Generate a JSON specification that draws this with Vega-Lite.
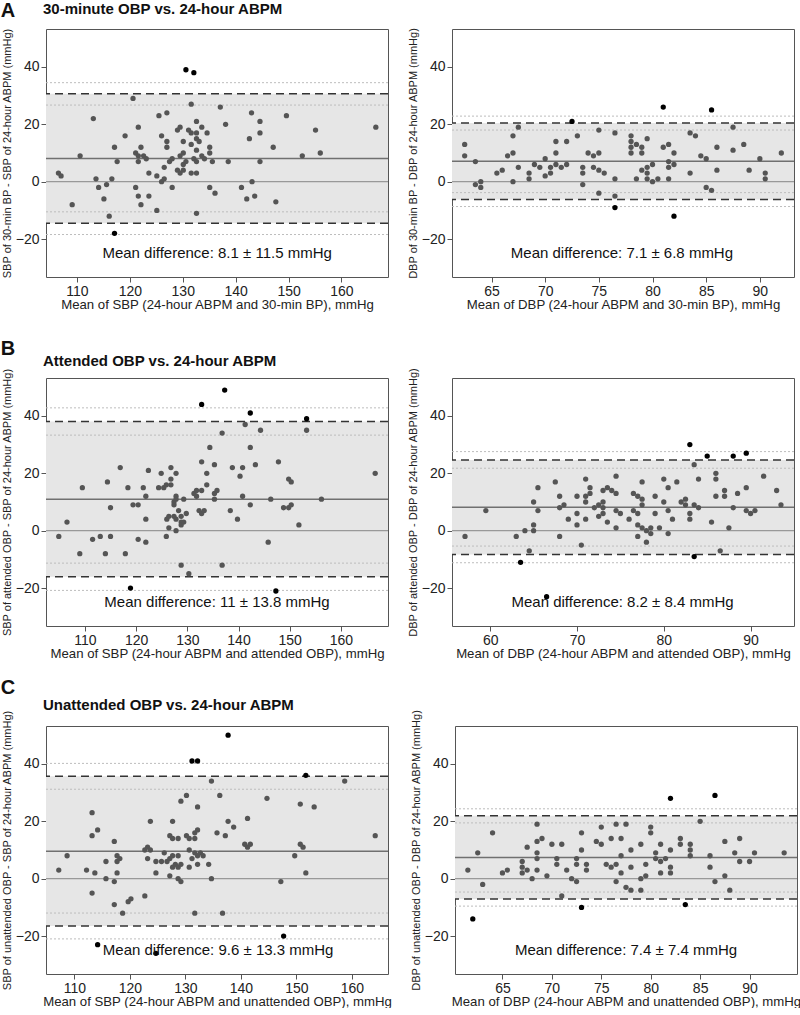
{
"$schema": "https://vega.github.io/schema/vega-lite/v6.json",
"padding": {"top": 0, "left": 0, "right": 0, "bottom": 0},
"background": "white",
"config": {
 "font": "Liberation Sans",
 "view": {"stroke": "#555555", "strokeWidth": 1},
 "axis": {"domain": false, "grid": false, "ticks": true, "tickColor": "#555555", "tickSize": 5, "labelFontSize": 14, "labelColor": "#222222", "labelFont": "Liberation Sans", "titleFont": "Liberation Sans", "titleFontWeight": "normal", "titleColor": "#222222"},
 "axisX": {"labelPadding": 2, "titleFontSize": 13.2, "titlePadding": 0},
 "axisY": {"labelPadding": 2, "titleFontSize": 11, "titlePadding": 3},
 "title": {"font": "Liberation Sans", "color": "#111111"}
},
"datasets": {
 "bands": [
  {"p": "A1", "lo": -14.44, "hi": 30.64},
  {"p": "A2", "lo": -6.23, "hi": 20.43},
  {"p": "B1", "lo": -16.05, "hi": 38.05},
  {"p": "B2", "lo": -8.26, "hi": 24.66},
  {"p": "C1", "lo": -16.47, "hi": 35.67},
  {"p": "C2", "lo": -7.1, "hi": 21.9}
 ],
 "lines": [
  {"p": "A1", "k": "mean", "y": 8.1}, {"p": "A1", "k": "zero", "y": 0}, {"p": "A1", "k": "loa", "y": 30.64}, {"p": "A1", "k": "loa", "y": -14.44},
  {"p": "A1", "k": "ci", "y": 34.5}, {"p": "A1", "k": "ci", "y": 26.7}, {"p": "A1", "k": "ci", "y": -10.5}, {"p": "A1", "k": "ci", "y": -18.4},
  {"p": "A2", "k": "mean", "y": 7.1}, {"p": "A2", "k": "zero", "y": 0}, {"p": "A2", "k": "loa", "y": 20.43}, {"p": "A2", "k": "loa", "y": -6.23},
  {"p": "A2", "k": "ci", "y": 22.85}, {"p": "A2", "k": "ci", "y": 18.0}, {"p": "A2", "k": "ci", "y": -3.8}, {"p": "A2", "k": "ci", "y": -8.65},
  {"p": "B1", "k": "mean", "y": 11}, {"p": "B1", "k": "zero", "y": 0}, {"p": "B1", "k": "loa", "y": 38.05}, {"p": "B1", "k": "loa", "y": -16.05},
  {"p": "B1", "k": "ci", "y": 42.8}, {"p": "B1", "k": "ci", "y": 33.3}, {"p": "B1", "k": "ci", "y": -11.3}, {"p": "B1", "k": "ci", "y": -20.8},
  {"p": "B2", "k": "mean", "y": 8.2}, {"p": "B2", "k": "zero", "y": 0}, {"p": "B2", "k": "loa", "y": 24.66}, {"p": "B2", "k": "loa", "y": -8.26},
  {"p": "B2", "k": "ci", "y": 27.56}, {"p": "B2", "k": "ci", "y": 21.76}, {"p": "B2", "k": "ci", "y": -5.36}, {"p": "B2", "k": "ci", "y": -11.16},
  {"p": "C1", "k": "mean", "y": 9.6}, {"p": "C1", "k": "zero", "y": 0}, {"p": "C1", "k": "loa", "y": 35.67}, {"p": "C1", "k": "loa", "y": -16.47},
  {"p": "C1", "k": "ci", "y": 40.17}, {"p": "C1", "k": "ci", "y": 31.17}, {"p": "C1", "k": "ci", "y": -11.97}, {"p": "C1", "k": "ci", "y": -20.97},
  {"p": "C2", "k": "mean", "y": 7.4}, {"p": "C2", "k": "zero", "y": 0}, {"p": "C2", "k": "loa", "y": 21.9}, {"p": "C2", "k": "loa", "y": -7.1},
  {"p": "C2", "k": "ci", "y": 24.35}, {"p": "C2", "k": "ci", "y": 19.45}, {"p": "C2", "k": "ci", "y": -4.65}, {"p": "C2", "k": "ci", "y": -9.55}
 ],
 "notes": [
  {"p": "A1", "m": 136.5, "d": -25, "t": "Mean difference: 8.1 ± 11.5 mmHg"},
  {"p": "A2", "m": 77.15, "d": -25, "t": "Mean difference: 7.1 ± 6.8 mmHg"},
  {"p": "B1", "m": 135.8, "d": -25, "t": "Mean difference: 11 ± 13.8 mmHg"},
  {"p": "B2", "m": 75.25, "d": -25, "t": "Mean difference: 8.2 ± 8.4 mmHg"},
  {"p": "C1", "m": 135.9, "d": -25, "t": "Mean difference: 9.6 ± 13.3 mmHg"},
  {"p": "C2", "m": 77.5, "d": -25, "t": "Mean difference: 7.4 ± 7.4 mmHg"}
 ],
 "pts": [
  {"p":"A1","m":106.5,"d":3},{"p":"A1","m":107.0,"d":2},{"p":"A1","m":109.1,"d":-8},{"p":"A1","m":110.6,"d":9},{"p":"A1","m":113.1,"d":22},{"p":"A1","m":113.6,"d":1},{"p":"A1","m":114.1,"d":-2},{"p":"A1","m":115.1,"d":-6},{"p":"A1","m":115.6,"d":-1},{"p":"A1","m":116.1,"d":-12},{"p":"A1","m":116.6,"d":1},{"p":"A1","m":117.1,"d":12},{"p":"A1","m":117.1,"d":-18},{"p":"A1","m":117.6,"d":7},{"p":"A1","m":119.1,"d":16},{"p":"A1","m":120.6,"d":29},{"p":"A1","m":121.1,"d":-2},{"p":"A1","m":121.1,"d":10},{"p":"A1","m":121.6,"d":19},{"p":"A1","m":121.6,"d":9},{"p":"A1","m":121.6,"d":7},{"p":"A1","m":121.6,"d":-5},{"p":"A1","m":122.1,"d":12},{"p":"A1","m":122.1,"d":-8},{"p":"A1","m":122.6,"d":9},{"p":"A1","m":123.1,"d":8},{"p":"A1","m":123.6,"d":3},{"p":"A1","m":123.6,"d":-5},{"p":"A1","m":125.1,"d":-10},{"p":"A1","m":125.1,"d":2},{"p":"A1","m":125.5,"d":23},{"p":"A1","m":126.0,"d":16},{"p":"A1","m":126.0,"d":0},{"p":"A1","m":126.5,"d":1},{"p":"A1","m":126.5,"d":5},{"p":"A1","m":127.0,"d":24},{"p":"A1","m":127.0,"d":14},{"p":"A1","m":127.0,"d":12},{"p":"A1","m":127.5,"d":7},{"p":"A1","m":128.0,"d":8},{"p":"A1","m":128.0,"d":-2},{"p":"A1","m":129.0,"d":18},{"p":"A1","m":129.0,"d":4},{"p":"A1","m":129.5,"d":19},{"p":"A1","m":129.5,"d":9},{"p":"A1","m":129.5,"d":3},{"p":"A1","m":130.1,"d":14},{"p":"A1","m":130.1,"d":10},{"p":"A1","m":130.1,"d":4},{"p":"A1","m":130.1,"d":6},{"p":"A1","m":130.6,"d":7},{"p":"A1","m":130.6,"d":39},{"p":"A1","m":131.1,"d":18},{"p":"A1","m":131.6,"d":17},{"p":"A1","m":131.6,"d":13},{"p":"A1","m":131.6,"d":3},{"p":"A1","m":131.6,"d":27},{"p":"A1","m":132.1,"d":38},{"p":"A1","m":132.1,"d":8},{"p":"A1","m":132.6,"d":21},{"p":"A1","m":132.6,"d":17},{"p":"A1","m":132.6,"d":15},{"p":"A1","m":132.6,"d":11},{"p":"A1","m":132.6,"d":7},{"p":"A1","m":132.6,"d":3},{"p":"A1","m":132.6,"d":-11},{"p":"A1","m":133.1,"d":14},{"p":"A1","m":133.6,"d":19},{"p":"A1","m":133.6,"d":9},{"p":"A1","m":134.1,"d":8},{"p":"A1","m":134.6,"d":17},{"p":"A1","m":135.1,"d":12},{"p":"A1","m":135.1,"d":10},{"p":"A1","m":135.1,"d":-2},{"p":"A1","m":135.6,"d":7},{"p":"A1","m":136.1,"d":-4},{"p":"A1","m":137.1,"d":26},{"p":"A1","m":138.1,"d":20},{"p":"A1","m":138.6,"d":7},{"p":"A1","m":141.1,"d":-2},{"p":"A1","m":142.1,"d":-6},{"p":"A1","m":142.6,"d":15},{"p":"A1","m":143.0,"d":24},{"p":"A1","m":143.1,"d":0},{"p":"A1","m":143.6,"d":-5},{"p":"A1","m":144.6,"d":21},{"p":"A1","m":144.6,"d":17},{"p":"A1","m":144.6,"d":7},{"p":"A1","m":147.1,"d":12},{"p":"A1","m":147.6,"d":-7},{"p":"A1","m":149.6,"d":23},{"p":"A1","m":152.6,"d":9},{"p":"A1","m":155.1,"d":18},{"p":"A1","m":156.0,"d":10},{"p":"A1","m":166.5,"d":19},
  {"p":"A2","m":62.5,"d":13},{"p":"A2","m":62.5,"d":9},{"p":"A2","m":63.5,"d":7},{"p":"A2","m":63.5,"d":-1},{"p":"A2","m":64,"d":0},{"p":"A2","m":64,"d":-2},{"p":"A2","m":65.5,"d":3},{"p":"A2","m":66,"d":4},{"p":"A2","m":66.5,"d":9},{"p":"A2","m":67,"d":16},{"p":"A2","m":67,"d":10},{"p":"A2","m":67,"d":0},{"p":"A2","m":67.5,"d":19},{"p":"A2","m":67.5,"d":5},{"p":"A2","m":68.5,"d":3},{"p":"A2","m":68.5,"d":1},{"p":"A2","m":69,"d":6},{"p":"A2","m":69.5,"d":5},{"p":"A2","m":70,"d":8},{"p":"A2","m":70,"d":2},{"p":"A2","m":70.5,"d":5},{"p":"A2","m":70.5,"d":3},{"p":"A2","m":71,"d":14},{"p":"A2","m":71,"d":10},{"p":"A2","m":71,"d":6},{"p":"A2","m":71.5,"d":5},{"p":"A2","m":72,"d":14},{"p":"A2","m":72,"d":6},{"p":"A2","m":72.5,"d":21},{"p":"A2","m":73,"d":16},{"p":"A2","m":73.5,"d":5},{"p":"A2","m":73.5,"d":3},{"p":"A2","m":73.5,"d":-1},{"p":"A2","m":74,"d":10},{"p":"A2","m":74.5,"d":9},{"p":"A2","m":74.5,"d":5},{"p":"A2","m":75,"d":18},{"p":"A2","m":75,"d":10},{"p":"A2","m":75,"d":4},{"p":"A2","m":75,"d":-4},{"p":"A2","m":75.5,"d":3},{"p":"A2","m":76.5,"d":17},{"p":"A2","m":76.5,"d":1},{"p":"A2","m":76.5,"d":-5},{"p":"A2","m":76.5,"d":-9},{"p":"A2","m":78,"d":16},{"p":"A2","m":78,"d":14},{"p":"A2","m":78,"d":12},{"p":"A2","m":78,"d":10},{"p":"A2","m":78.5,"d":13},{"p":"A2","m":78.5,"d":1},{"p":"A2","m":79,"d":12},{"p":"A2","m":79,"d":10},{"p":"A2","m":79,"d":4},{"p":"A2","m":79.5,"d":15},{"p":"A2","m":79.5,"d":5},{"p":"A2","m":79.5,"d":3},{"p":"A2","m":79.5,"d":1},{"p":"A2","m":80,"d":6},{"p":"A2","m":80,"d":0},{"p":"A2","m":80.5,"d":1},{"p":"A2","m":81,"d":26},{"p":"A2","m":81,"d":12},{"p":"A2","m":81.5,"d":13},{"p":"A2","m":81.5,"d":7},{"p":"A2","m":81.5,"d":5},{"p":"A2","m":81.5,"d":1},{"p":"A2","m":82,"d":10},{"p":"A2","m":82,"d":6},{"p":"A2","m":82,"d":-12},{"p":"A2","m":83.5,"d":17},{"p":"A2","m":83.5,"d":3},{"p":"A2","m":84,"d":16},{"p":"A2","m":84.5,"d":9},{"p":"A2","m":85,"d":8},{"p":"A2","m":85,"d":-2},{"p":"A2","m":85.5,"d":25},{"p":"A2","m":85.5,"d":-3},{"p":"A2","m":86,"d":12},{"p":"A2","m":86,"d":4},{"p":"A2","m":87.5,"d":19},{"p":"A2","m":87.5,"d":11},{"p":"A2","m":88.5,"d":13},{"p":"A2","m":89,"d":4},{"p":"A2","m":90,"d":8},{"p":"A2","m":90.5,"d":3},{"p":"A2","m":90.5,"d":1},{"p":"A2","m":92,"d":10},
  {"p":"B1","m":104.9,"d":-2},{"p":"B1","m":106.5,"d":3},{"p":"B1","m":109.0,"d":-8},{"p":"B1","m":109.5,"d":15},{"p":"B1","m":111.5,"d":-3},{"p":"B1","m":113.0,"d":-2},{"p":"B1","m":114.0,"d":-8},{"p":"B1","m":114.4,"d":17},{"p":"B1","m":115.0,"d":8},{"p":"B1","m":115.0,"d":-2},{"p":"B1","m":116.9,"d":22},{"p":"B1","m":117.9,"d":-8},{"p":"B1","m":118.4,"d":15},{"p":"B1","m":118.9,"d":-20},{"p":"B1","m":119.4,"d":9},{"p":"B1","m":120.4,"d":9},{"p":"B1","m":120.4,"d":-3},{"p":"B1","m":121.4,"d":15},{"p":"B1","m":121.9,"d":12},{"p":"B1","m":121.9,"d":4},{"p":"B1","m":121.9,"d":-4},{"p":"B1","m":122.4,"d":21},{"p":"B1","m":124.4,"d":15},{"p":"B1","m":124.9,"d":20},{"p":"B1","m":125.4,"d":15},{"p":"B1","m":125.9,"d":16},{"p":"B1","m":125.9,"d":-2},{"p":"B1","m":126.0,"d":4},{"p":"B1","m":126.4,"d":1},{"p":"B1","m":126.4,"d":5},{"p":"B1","m":126.8,"d":22},{"p":"B1","m":126.8,"d":18},{"p":"B1","m":126.8,"d":16},{"p":"B1","m":127.4,"d":10},{"p":"B1","m":127.4,"d":9},{"p":"B1","m":127.4,"d":5},{"p":"B1","m":127.8,"d":20},{"p":"B1","m":127.8,"d":12},{"p":"B1","m":127.8,"d":11},{"p":"B1","m":127.8,"d":4},{"p":"B1","m":127.8,"d":0},{"p":"B1","m":128.3,"d":7},{"p":"B1","m":128.8,"d":-12},{"p":"B1","m":128.8,"d":5},{"p":"B1","m":128.8,"d":3},{"p":"B1","m":128.8,"d":2},{"p":"B1","m":129.3,"d":11},{"p":"B1","m":129.3,"d":3},{"p":"B1","m":129.8,"d":6},{"p":"B1","m":130.3,"d":-15},{"p":"B1","m":131.3,"d":13},{"p":"B1","m":131.8,"d":14},{"p":"B1","m":131.8,"d":12},{"p":"B1","m":132.3,"d":7},{"p":"B1","m":132.8,"d":24},{"p":"B1","m":132.8,"d":14},{"p":"B1","m":132.8,"d":6},{"p":"B1","m":133.3,"d":7},{"p":"B1","m":132.8,"d":44},{"p":"B1","m":133.8,"d":20},{"p":"B1","m":133.8,"d":16},{"p":"B1","m":134.4,"d":29},{"p":"B1","m":135.3,"d":23},{"p":"B1","m":135.3,"d":13},{"p":"B1","m":135.3,"d":11},{"p":"B1","m":135.8,"d":14},{"p":"B1","m":136.8,"d":34},{"p":"B1","m":136.8,"d":-12},{"p":"B1","m":137.3,"d":49},{"p":"B1","m":138.4,"d":7},{"p":"B1","m":138.8,"d":22},{"p":"B1","m":139.8,"d":4},{"p":"B1","m":140.3,"d":19},{"p":"B1","m":140.8,"d":22},{"p":"B1","m":140.8,"d":12},{"p":"B1","m":141.3,"d":37},{"p":"B1","m":142.3,"d":41},{"p":"B1","m":142.3,"d":29},{"p":"B1","m":142.3,"d":9},{"p":"B1","m":143.3,"d":23},{"p":"B1","m":144.3,"d":35},{"p":"B1","m":145.8,"d":-4},{"p":"B1","m":146.3,"d":11},{"p":"B1","m":147.3,"d":-21},{"p":"B1","m":147.8,"d":24},{"p":"B1","m":148.8,"d":8},{"p":"B1","m":149.8,"d":8},{"p":"B1","m":149.8,"d":18},{"p":"B1","m":150.3,"d":17},{"p":"B1","m":150.3,"d":9},{"p":"B1","m":151.8,"d":2},{"p":"B1","m":153.3,"d":39},{"p":"B1","m":153.3,"d":35},{"p":"B1","m":156.2,"d":11},{"p":"B1","m":166.7,"d":20},
  {"p":"B2","m":57.1,"d":-2},{"p":"B2","m":59.5,"d":7},{"p":"B2","m":63,"d":-2},{"p":"B2","m":63.5,"d":-11},{"p":"B2","m":64,"d":0},{"p":"B2","m":64.5,"d":-7},{"p":"B2","m":65,"d":10},{"p":"B2","m":65,"d":2},{"p":"B2","m":65,"d":0},{"p":"B2","m":65.5,"d":15},{"p":"B2","m":65.5,"d":7},{"p":"B2","m":66.5,"d":-23},{"p":"B2","m":67.5,"d":17},{"p":"B2","m":68,"d":12},{"p":"B2","m":68,"d":8},{"p":"B2","m":68,"d":-2},{"p":"B2","m":68.5,"d":9},{"p":"B2","m":69,"d":4},{"p":"B2","m":70,"d":12},{"p":"B2","m":70,"d":6},{"p":"B2","m":70,"d":2},{"p":"B2","m":70.5,"d":-5},{"p":"B2","m":71,"d":18},{"p":"B2","m":71,"d":12},{"p":"B2","m":71,"d":10},{"p":"B2","m":71,"d":4},{"p":"B2","m":71.5,"d":15},{"p":"B2","m":71.5,"d":13},{"p":"B2","m":72,"d":8},{"p":"B2","m":72.5,"d":9},{"p":"B2","m":72.5,"d":5},{"p":"B2","m":73,"d":14},{"p":"B2","m":73,"d":10},{"p":"B2","m":73,"d":8},{"p":"B2","m":73,"d":6},{"p":"B2","m":73.5,"d":15},{"p":"B2","m":73.5,"d":3},{"p":"B2","m":74,"d":14},{"p":"B2","m":74.5,"d":19},{"p":"B2","m":74.5,"d":13},{"p":"B2","m":74.5,"d":7},{"p":"B2","m":74.5,"d":1},{"p":"B2","m":75,"d":6},{"p":"B2","m":76,"d":4},{"p":"B2","m":76.5,"d":13},{"p":"B2","m":76.5,"d":7},{"p":"B2","m":77,"d":12},{"p":"B2","m":77,"d":6},{"p":"B2","m":77,"d":2},{"p":"B2","m":77,"d":-2},{"p":"B2","m":77.5,"d":17},{"p":"B2","m":77.5,"d":11},{"p":"B2","m":77.5,"d":9},{"p":"B2","m":77.5,"d":1},{"p":"B2","m":78,"d":0},{"p":"B2","m":78,"d":-4},{"p":"B2","m":78.5,"d":1},{"p":"B2","m":78.5,"d":-1},{"p":"B2","m":79,"d":12},{"p":"B2","m":79,"d":6},{"p":"B2","m":79.5,"d":1},{"p":"B2","m":80,"d":18},{"p":"B2","m":80,"d":10},{"p":"B2","m":80.5,"d":15},{"p":"B2","m":80.5,"d":7},{"p":"B2","m":80.5,"d":-1},{"p":"B2","m":81,"d":4},{"p":"B2","m":81.5,"d":17},{"p":"B2","m":82,"d":10},{"p":"B2","m":82.5,"d":11},{"p":"B2","m":82.5,"d":9},{"p":"B2","m":83,"d":30},{"p":"B2","m":83,"d":6},{"p":"B2","m":83,"d":4},{"p":"B2","m":83.5,"d":23},{"p":"B2","m":83.5,"d":9},{"p":"B2","m":83.5,"d":-9},{"p":"B2","m":84,"d":18},{"p":"B2","m":84,"d":8},{"p":"B2","m":85,"d":26},{"p":"B2","m":85.5,"d":3},{"p":"B2","m":86,"d":20},{"p":"B2","m":86,"d":18},{"p":"B2","m":86,"d":12},{"p":"B2","m":86.5,"d":-7},{"p":"B2","m":87,"d":14},{"p":"B2","m":87,"d":12},{"p":"B2","m":87.5,"d":1},{"p":"B2","m":88,"d":26},{"p":"B2","m":88,"d":8},{"p":"B2","m":88.5,"d":13},{"p":"B2","m":89.5,"d":27},{"p":"B2","m":89.5,"d":15},{"p":"B2","m":89.5,"d":7},{"p":"B2","m":90,"d":6},{"p":"B2","m":90.5,"d":7},{"p":"B2","m":91.5,"d":19},{"p":"B2","m":93,"d":14},{"p":"B2","m":93.5,"d":9},
  {"p":"C1","m":107.2,"d":3},{"p":"C1","m":108.7,"d":8},{"p":"C1","m":112.2,"d":3},{"p":"C1","m":113.2,"d":23},{"p":"C1","m":113.2,"d":15},{"p":"C1","m":113.2,"d":-5},{"p":"C1","m":113.7,"d":2},{"p":"C1","m":114.2,"d":17},{"p":"C1","m":114.2,"d":-23},{"p":"C1","m":115.7,"d":6},{"p":"C1","m":115.7,"d":0},{"p":"C1","m":117.2,"d":13},{"p":"C1","m":117.2,"d":-1},{"p":"C1","m":117.2,"d":-9},{"p":"C1","m":117.7,"d":8},{"p":"C1","m":117.7,"d":6},{"p":"C1","m":117.7,"d":2},{"p":"C1","m":118.2,"d":7},{"p":"C1","m":118.7,"d":-12},{"p":"C1","m":119.7,"d":-8},{"p":"C1","m":120.2,"d":-7},{"p":"C1","m":122.7,"d":-6},{"p":"C1","m":122.7,"d":10},{"p":"C1","m":123.2,"d":11},{"p":"C1","m":123.2,"d":7},{"p":"C1","m":123.7,"d":10},{"p":"C1","m":123.7,"d":20},{"p":"C1","m":124.7,"d":6},{"p":"C1","m":124.7,"d":2},{"p":"C1","m":124.7,"d":-26},{"p":"C1","m":125.7,"d":6},{"p":"C1","m":126.2,"d":9},{"p":"C1","m":126.7,"d":6},{"p":"C1","m":127.2,"d":7},{"p":"C1","m":127.2,"d":15},{"p":"C1","m":127.2,"d":1},{"p":"C1","m":127.7,"d":20},{"p":"C1","m":127.7,"d":14},{"p":"C1","m":127.7,"d":8},{"p":"C1","m":127.7,"d":4},{"p":"C1","m":128.2,"d":5},{"p":"C1","m":128.7,"d":14},{"p":"C1","m":128.7,"d":8},{"p":"C1","m":128.7,"d":4},{"p":"C1","m":128.7,"d":0},{"p":"C1","m":129.2,"d":5},{"p":"C1","m":129.2,"d":-1},{"p":"C1","m":129.2,"d":27},{"p":"C1","m":130.2,"d":15},{"p":"C1","m":130.2,"d":29},{"p":"C1","m":130.7,"d":14},{"p":"C1","m":130.7,"d":10},{"p":"C1","m":130.7,"d":4},{"p":"C1","m":131.2,"d":41},{"p":"C1","m":131.2,"d":7},{"p":"C1","m":131.7,"d":9},{"p":"C1","m":131.7,"d":14},{"p":"C1","m":131.7,"d":-12},{"p":"C1","m":131.7,"d":16},{"p":"C1","m":132.2,"d":41},{"p":"C1","m":132.2,"d":25},{"p":"C1","m":132.2,"d":17},{"p":"C1","m":132.2,"d":8},{"p":"C1","m":132.2,"d":5},{"p":"C1","m":132.7,"d":9},{"p":"C1","m":133.2,"d":8},{"p":"C1","m":134.2,"d":5},{"p":"C1","m":134.7,"d":34},{"p":"C1","m":134.7,"d":0},{"p":"C1","m":135.7,"d":16},{"p":"C1","m":136.2,"d":29},{"p":"C1","m":136.7,"d":-12},{"p":"C1","m":137.2,"d":15},{"p":"C1","m":137.7,"d":50},{"p":"C1","m":137.7,"d":20},{"p":"C1","m":138.7,"d":18},{"p":"C1","m":140.7,"d":12},{"p":"C1","m":141.2,"d":21},{"p":"C1","m":141.2,"d":11},{"p":"C1","m":141.7,"d":12},{"p":"C1","m":144.7,"d":28},{"p":"C1","m":147.2,"d":-1},{"p":"C1","m":147.7,"d":-20},{"p":"C1","m":149.7,"d":8},{"p":"C1","m":150.7,"d":26},{"p":"C1","m":150.7,"d":12},{"p":"C1","m":151.2,"d":11},{"p":"C1","m":151.7,"d":36},{"p":"C1","m":151.7,"d":2},{"p":"C1","m":153.2,"d":25},{"p":"C1","m":158.7,"d":34},{"p":"C1","m":164.2,"d":15},
  {"p":"C2","m":61.5,"d":3},{"p":"C2","m":62,"d":-14},{"p":"C2","m":62.5,"d":9},{"p":"C2","m":63,"d":-2},{"p":"C2","m":64,"d":16},{"p":"C2","m":65,"d":2},{"p":"C2","m":65.5,"d":3},{"p":"C2","m":67,"d":6},{"p":"C2","m":67,"d":4},{"p":"C2","m":67,"d":2},{"p":"C2","m":67.5,"d":11},{"p":"C2","m":67.5,"d":3},{"p":"C2","m":68,"d":0},{"p":"C2","m":68.5,"d":19},{"p":"C2","m":68.5,"d":13},{"p":"C2","m":68.5,"d":9},{"p":"C2","m":68.5,"d":7},{"p":"C2","m":68.5,"d":3},{"p":"C2","m":69,"d":14},{"p":"C2","m":69.5,"d":1},{"p":"C2","m":70,"d":12},{"p":"C2","m":70.5,"d":7},{"p":"C2","m":70.5,"d":5},{"p":"C2","m":71,"d":12},{"p":"C2","m":71,"d":-6},{"p":"C2","m":71.5,"d":3},{"p":"C2","m":72,"d":0},{"p":"C2","m":72.5,"d":7},{"p":"C2","m":72.5,"d":5},{"p":"C2","m":72.5,"d":-1},{"p":"C2","m":73,"d":16},{"p":"C2","m":73,"d":10},{"p":"C2","m":73,"d":-10},{"p":"C2","m":73.5,"d":5},{"p":"C2","m":73.5,"d":3},{"p":"C2","m":74.5,"d":13},{"p":"C2","m":75,"d":18},{"p":"C2","m":75,"d":12},{"p":"C2","m":75.5,"d":5},{"p":"C2","m":76,"d":14},{"p":"C2","m":76,"d":4},{"p":"C2","m":76.5,"d":19},{"p":"C2","m":76.5,"d":5},{"p":"C2","m":76.5,"d":-1},{"p":"C2","m":77,"d":14},{"p":"C2","m":77,"d":8},{"p":"C2","m":77,"d":2},{"p":"C2","m":77.5,"d":19},{"p":"C2","m":77.5,"d":-3},{"p":"C2","m":78,"d":10},{"p":"C2","m":78,"d":4},{"p":"C2","m":78,"d":-4},{"p":"C2","m":79,"d":12},{"p":"C2","m":79,"d":0},{"p":"C2","m":79,"d":-4},{"p":"C2","m":79.5,"d":5},{"p":"C2","m":79.5,"d":1},{"p":"C2","m":80,"d":18},{"p":"C2","m":80,"d":16},{"p":"C2","m":80.5,"d":9},{"p":"C2","m":80.5,"d":7},{"p":"C2","m":81,"d":12},{"p":"C2","m":81,"d":6},{"p":"C2","m":81,"d":2},{"p":"C2","m":81.5,"d":7},{"p":"C2","m":82,"d":28},{"p":"C2","m":82,"d":10},{"p":"C2","m":82,"d":4},{"p":"C2","m":82,"d":2},{"p":"C2","m":83,"d":14},{"p":"C2","m":83,"d":12},{"p":"C2","m":83.5,"d":-9},{"p":"C2","m":84,"d":12},{"p":"C2","m":84,"d":10},{"p":"C2","m":84,"d":8},{"p":"C2","m":85,"d":20},{"p":"C2","m":86,"d":8},{"p":"C2","m":86,"d":4},{"p":"C2","m":86.5,"d":29},{"p":"C2","m":86.5,"d":-1},{"p":"C2","m":87.5,"d":13},{"p":"C2","m":87.5,"d":1},{"p":"C2","m":88,"d":-4},{"p":"C2","m":88.5,"d":9},{"p":"C2","m":89,"d":14},{"p":"C2","m":89,"d":6},{"p":"C2","m":90,"d":6},{"p":"C2","m":90.5,"d":9},{"p":"C2","m":93.5,"d":9}
 ]
},
"vconcat": [
 {
  "title": {"text": "A", "anchor": "start", "frame": "bounds", "fontSize": 20, "fontWeight": "bold", "offset": -20},
  "spacing": 16,
  "hconcat": [
   {"width": 342, "height": 248,
    "title": {"text": "30-minute OBP vs. 24-hour ABPM", "anchor": "start", "frame": "group", "fontSize": 15, "fontWeight": "bold", "offset": 11, "dx": -3},
    "layer": [
     {"data": {"name": "bands"}, "transform": [{"filter": "datum.p === 'A1'"}], "mark": {"type": "rect", "color": "#e6e6e6"}, "encoding": {"y": {"field": "lo", "type": "quantitative", "scale": {"domain": [-33.2, 53.2], "nice": false, "zero": false}, "axis": {"values": [-20, 0, 20, 40], "title": "SBP of 30-min BP - SBP of 24-hour ABPM (mmHg)"}}, "y2": {"field": "hi"}}},
     {"data": {"name": "lines"}, "transform": [{"filter": "datum.p === 'A1' && datum.k === 'ci'"}], "mark": {"type": "rule", "color": "#bdbdbd", "strokeDash": [2, 2], "strokeWidth": 1}, "encoding": {"y": {"field": "y", "type": "quantitative"}}},
     {"data": {"name": "lines"}, "transform": [{"filter": "datum.p === 'A1' && datum.k === 'zero'"}], "mark": {"type": "rule", "color": "#999999", "strokeWidth": 1.3}, "encoding": {"y": {"field": "y", "type": "quantitative"}}},
     {"data": {"name": "lines"}, "transform": [{"filter": "datum.p === 'A1' && datum.k === 'mean'"}], "mark": {"type": "rule", "color": "#707070", "strokeWidth": 1.5}, "encoding": {"y": {"field": "y", "type": "quantitative"}}},
     {"data": {"name": "lines"}, "transform": [{"filter": "datum.p === 'A1' && datum.k === 'loa'"}], "mark": {"type": "rule", "color": "#333333", "strokeDash": [8, 5], "strokeWidth": 1.5}, "encoding": {"y": {"field": "y", "type": "quantitative"}}},
     {"data": {"name": "pts"}, "transform": [{"filter": "datum.p === 'A1'"}, {"lookup": "p", "from": {"data": {"name": "bands"}, "key": "p", "fields": ["lo", "hi"]}}], "mark": {"type": "circle", "size": 28, "opacity": 1}, "encoding": {"x": {"field": "m", "type": "quantitative", "scale": {"domain": [104.15, 168.8], "nice": false, "zero": false}, "axis": {"values": [110, 120, 130, 140, 150, 160], "title": "Mean of SBP (24-hour ABPM and 30-min BP), mmHg"}}, "y": {"field": "d", "type": "quantitative"}, "color": {"condition": {"test": "datum.d > datum.hi || datum.d < datum.lo", "value": "#000000"}, "value": "#555555"}}},
     {"data": {"name": "notes"}, "transform": [{"filter": "datum.p === 'A1'"}], "mark": {"type": "text", "fontSize": 15, "color": "#111111", "baseline": "middle"}, "encoding": {"x": {"field": "m", "type": "quantitative"}, "y": {"field": "d", "type": "quantitative"}, "text": {"field": "t"}}}
    ]},
   {"width": 342, "height": 248,
    "title": {"text": " ", "anchor": "start", "frame": "group", "fontSize": 15, "fontWeight": "bold", "offset": 11},
    "layer": [
     {"data": {"name": "bands"}, "transform": [{"filter": "datum.p === 'A2'"}], "mark": {"type": "rect", "color": "#e6e6e6"}, "encoding": {"y": {"field": "lo", "type": "quantitative", "scale": {"domain": [-33.2, 53.2], "nice": false, "zero": false}, "axis": {"values": [-20, 0, 20, 40], "title": "DBP of 30-min BP - DBP of 24-hour ABPM (mmHg)"}}, "y2": {"field": "hi"}}},
     {"data": {"name": "lines"}, "transform": [{"filter": "datum.p === 'A2' && datum.k === 'ci'"}], "mark": {"type": "rule", "color": "#bdbdbd", "strokeDash": [2, 2], "strokeWidth": 1}, "encoding": {"y": {"field": "y", "type": "quantitative"}}},
     {"data": {"name": "lines"}, "transform": [{"filter": "datum.p === 'A2' && datum.k === 'zero'"}], "mark": {"type": "rule", "color": "#999999", "strokeWidth": 1.3}, "encoding": {"y": {"field": "y", "type": "quantitative"}}},
     {"data": {"name": "lines"}, "transform": [{"filter": "datum.p === 'A2' && datum.k === 'mean'"}], "mark": {"type": "rule", "color": "#707070", "strokeWidth": 1.5}, "encoding": {"y": {"field": "y", "type": "quantitative"}}},
     {"data": {"name": "lines"}, "transform": [{"filter": "datum.p === 'A2' && datum.k === 'loa'"}], "mark": {"type": "rule", "color": "#333333", "strokeDash": [8, 5], "strokeWidth": 1.5}, "encoding": {"y": {"field": "y", "type": "quantitative"}}},
     {"data": {"name": "pts"}, "transform": [{"filter": "datum.p === 'A2'"}, {"lookup": "p", "from": {"data": {"name": "bands"}, "key": "p", "fields": ["lo", "hi"]}}], "mark": {"type": "circle", "size": 28, "opacity": 1}, "encoding": {"x": {"field": "m", "type": "quantitative", "scale": {"domain": [61.32, 93.18], "nice": false, "zero": false}, "axis": {"values": [65, 70, 75, 80, 85, 90], "title": "Mean of DBP (24-hour ABPM and 30-min BP), mmHg"}}, "y": {"field": "d", "type": "quantitative"}, "color": {"condition": {"test": "datum.d > datum.hi || datum.d < datum.lo", "value": "#000000"}, "value": "#555555"}}},
     {"data": {"name": "notes"}, "transform": [{"filter": "datum.p === 'A2'"}], "mark": {"type": "text", "fontSize": 15, "color": "#111111", "baseline": "middle"}, "encoding": {"x": {"field": "m", "type": "quantitative"}, "y": {"field": "d", "type": "quantitative"}, "text": {"field": "t"}}}
    ]}
  ]
 },
 {
  "spacing": 17,
  "vconcat": [
   {
    "title": {"text": "B", "anchor": "start", "frame": "bounds", "fontSize": 20, "fontWeight": "bold", "offset": -6},
    "spacing": 16,
    "hconcat": [
     {"width": 342, "height": 248,
      "title": {"text": "Attended OBP vs. 24-hour ABPM", "anchor": "start", "frame": "group", "fontSize": 15, "fontWeight": "bold", "offset": -1, "dx": -3},
      "layer": [
       {"data": {"name": "bands"}, "transform": [{"filter": "datum.p === 'B1'"}], "mark": {"type": "rect", "color": "#e6e6e6"}, "encoding": {"y": {"field": "lo", "type": "quantitative", "scale": {"domain": [-33.2, 53.2], "nice": false, "zero": false}, "axis": {"values": [-20, 0, 20, 40], "title": "SBP of attended OBP - SBP of 24-hour ABPM (mmHg)"}}, "y2": {"field": "hi"}}},
       {"data": {"name": "lines"}, "transform": [{"filter": "datum.p === 'B1' && datum.k === 'ci'"}], "mark": {"type": "rule", "color": "#bdbdbd", "strokeDash": [2, 2], "strokeWidth": 1}, "encoding": {"y": {"field": "y", "type": "quantitative"}}},
       {"data": {"name": "lines"}, "transform": [{"filter": "datum.p === 'B1' && datum.k === 'zero'"}], "mark": {"type": "rule", "color": "#999999", "strokeWidth": 1.3}, "encoding": {"y": {"field": "y", "type": "quantitative"}}},
       {"data": {"name": "lines"}, "transform": [{"filter": "datum.p === 'B1' && datum.k === 'mean'"}], "mark": {"type": "rule", "color": "#707070", "strokeWidth": 1.5}, "encoding": {"y": {"field": "y", "type": "quantitative"}}},
       {"data": {"name": "lines"}, "transform": [{"filter": "datum.p === 'B1' && datum.k === 'loa'"}], "mark": {"type": "rule", "color": "#333333", "strokeDash": [8, 5], "strokeWidth": 1.5}, "encoding": {"y": {"field": "y", "type": "quantitative"}}},
       {"data": {"name": "pts"}, "transform": [{"filter": "datum.p === 'B1'"}, {"lookup": "p", "from": {"data": {"name": "bands"}, "key": "p", "fields": ["lo", "hi"]}}], "mark": {"type": "circle", "size": 28, "opacity": 1}, "encoding": {"x": {"field": "m", "type": "quantitative", "scale": {"domain": [102.4, 169.2], "nice": false, "zero": false}, "axis": {"values": [110, 120, 130, 140, 150, 160], "title": "Mean of SBP (24-hour ABPM and attended OBP), mmHg"}}, "y": {"field": "d", "type": "quantitative"}, "color": {"condition": {"test": "datum.d > datum.hi || datum.d < datum.lo", "value": "#000000"}, "value": "#555555"}}},
       {"data": {"name": "notes"}, "transform": [{"filter": "datum.p === 'B1'"}], "mark": {"type": "text", "fontSize": 15, "color": "#111111", "baseline": "middle"}, "encoding": {"x": {"field": "m", "type": "quantitative"}, "y": {"field": "d", "type": "quantitative"}, "text": {"field": "t"}}}
      ]},
     {"width": 342, "height": 248,
      "title": {"text": " ", "anchor": "start", "frame": "group", "fontSize": 15, "fontWeight": "bold", "offset": -1},
      "layer": [
       {"data": {"name": "bands"}, "transform": [{"filter": "datum.p === 'B2'"}], "mark": {"type": "rect", "color": "#e6e6e6"}, "encoding": {"y": {"field": "lo", "type": "quantitative", "scale": {"domain": [-33.2, 53.2], "nice": false, "zero": false}, "axis": {"values": [-20, 0, 20, 40], "title": "DBP of attended OBP - DBP of 24-hour ABPM (mmHg)"}}, "y2": {"field": "hi"}}},
       {"data": {"name": "lines"}, "transform": [{"filter": "datum.p === 'B2' && datum.k === 'ci'"}], "mark": {"type": "rule", "color": "#bdbdbd", "strokeDash": [2, 2], "strokeWidth": 1}, "encoding": {"y": {"field": "y", "type": "quantitative"}}},
       {"data": {"name": "lines"}, "transform": [{"filter": "datum.p === 'B2' && datum.k === 'zero'"}], "mark": {"type": "rule", "color": "#999999", "strokeWidth": 1.3}, "encoding": {"y": {"field": "y", "type": "quantitative"}}},
       {"data": {"name": "lines"}, "transform": [{"filter": "datum.p === 'B2' && datum.k === 'mean'"}], "mark": {"type": "rule", "color": "#707070", "strokeWidth": 1.5}, "encoding": {"y": {"field": "y", "type": "quantitative"}}},
       {"data": {"name": "lines"}, "transform": [{"filter": "datum.p === 'B2' && datum.k === 'loa'"}], "mark": {"type": "rule", "color": "#333333", "strokeDash": [8, 5], "strokeWidth": 1.5}, "encoding": {"y": {"field": "y", "type": "quantitative"}}},
       {"data": {"name": "pts"}, "transform": [{"filter": "datum.p === 'B2'"}, {"lookup": "p", "from": {"data": {"name": "bands"}, "key": "p", "fields": ["lo", "hi"]}}], "mark": {"type": "circle", "size": 28, "opacity": 1}, "encoding": {"x": {"field": "m", "type": "quantitative", "scale": {"domain": [55.6, 95.0], "nice": false, "zero": false}, "axis": {"values": [60, 70, 80, 90], "title": "Mean of DBP (24-hour ABPM and attended OBP), mmHg"}}, "y": {"field": "d", "type": "quantitative"}, "color": {"condition": {"test": "datum.d > datum.hi || datum.d < datum.lo", "value": "#000000"}, "value": "#555555"}}},
       {"data": {"name": "notes"}, "transform": [{"filter": "datum.p === 'B2'"}], "mark": {"type": "text", "fontSize": 15, "color": "#111111", "baseline": "middle"}, "encoding": {"x": {"field": "m", "type": "quantitative"}, "y": {"field": "d", "type": "quantitative"}, "text": {"field": "t"}}}
      ]}
    ]
   },
   {
    "title": {"text": "C", "anchor": "start", "frame": "bounds", "fontSize": 20, "fontWeight": "bold", "offset": -1},
    "spacing": 16,
    "hconcat": [
     {"width": 342, "height": 248,
      "title": {"text": "Unattended OBP vs. 24-hour ABPM", "anchor": "start", "frame": "group", "fontSize": 15, "fontWeight": "bold", "offset": -3, "dx": -3},
      "layer": [
       {"data": {"name": "bands"}, "transform": [{"filter": "datum.p === 'C1'"}], "mark": {"type": "rect", "color": "#e6e6e6"}, "encoding": {"y": {"field": "lo", "type": "quantitative", "scale": {"domain": [-33.2, 53.2], "nice": false, "zero": false}, "axis": {"values": [-20, 0, 20, 40], "title": "SBP of unattended OBP - SBP of 24-hour ABPM (mmHg)"}}, "y2": {"field": "hi"}}},
       {"data": {"name": "lines"}, "transform": [{"filter": "datum.p === 'C1' && datum.k === 'ci'"}], "mark": {"type": "rule", "color": "#bdbdbd", "strokeDash": [2, 2], "strokeWidth": 1}, "encoding": {"y": {"field": "y", "type": "quantitative"}}},
       {"data": {"name": "lines"}, "transform": [{"filter": "datum.p === 'C1' && datum.k === 'zero'"}], "mark": {"type": "rule", "color": "#999999", "strokeWidth": 1.3}, "encoding": {"y": {"field": "y", "type": "quantitative"}}},
       {"data": {"name": "lines"}, "transform": [{"filter": "datum.p === 'C1' && datum.k === 'mean'"}], "mark": {"type": "rule", "color": "#707070", "strokeWidth": 1.5}, "encoding": {"y": {"field": "y", "type": "quantitative"}}},
       {"data": {"name": "lines"}, "transform": [{"filter": "datum.p === 'C1' && datum.k === 'loa'"}], "mark": {"type": "rule", "color": "#333333", "strokeDash": [8, 5], "strokeWidth": 1.5}, "encoding": {"y": {"field": "y", "type": "quantitative"}}},
       {"data": {"name": "pts"}, "transform": [{"filter": "datum.p === 'C1'"}, {"lookup": "p", "from": {"data": {"name": "bands"}, "key": "p", "fields": ["lo", "hi"]}}], "mark": {"type": "circle", "size": 28, "opacity": 1}, "encoding": {"x": {"field": "m", "type": "quantitative", "scale": {"domain": [104.9, 166.5], "nice": false, "zero": false}, "axis": {"values": [110, 120, 130, 140, 150, 160], "title": "Mean of SBP (24-hour ABPM and unattended OBP), mmHg"}}, "y": {"field": "d", "type": "quantitative"}, "color": {"condition": {"test": "datum.d > datum.hi || datum.d < datum.lo", "value": "#000000"}, "value": "#555555"}}},
       {"data": {"name": "notes"}, "transform": [{"filter": "datum.p === 'C1'"}], "mark": {"type": "text", "fontSize": 15, "color": "#111111", "baseline": "middle"}, "encoding": {"x": {"field": "m", "type": "quantitative"}, "y": {"field": "d", "type": "quantitative"}, "text": {"field": "t"}}}
      ]},
     {"width": 342, "height": 248,
      "title": {"text": " ", "anchor": "start", "frame": "group", "fontSize": 15, "fontWeight": "bold", "offset": -3},
      "layer": [
       {"data": {"name": "bands"}, "transform": [{"filter": "datum.p === 'C2'"}], "mark": {"type": "rect", "color": "#e6e6e6"}, "encoding": {"y": {"field": "lo", "type": "quantitative", "scale": {"domain": [-33.2, 53.2], "nice": false, "zero": false}, "axis": {"values": [-20, 0, 20, 40], "title": "DBP of unattended OBP - DBP of 24-hour ABPM (mmHg)"}}, "y2": {"field": "hi"}}},
       {"data": {"name": "lines"}, "transform": [{"filter": "datum.p === 'C2' && datum.k === 'ci'"}], "mark": {"type": "rule", "color": "#bdbdbd", "strokeDash": [2, 2], "strokeWidth": 1}, "encoding": {"y": {"field": "y", "type": "quantitative"}}},
       {"data": {"name": "lines"}, "transform": [{"filter": "datum.p === 'C2' && datum.k === 'zero'"}], "mark": {"type": "rule", "color": "#999999", "strokeWidth": 1.3}, "encoding": {"y": {"field": "y", "type": "quantitative"}}},
       {"data": {"name": "lines"}, "transform": [{"filter": "datum.p === 'C2' && datum.k === 'mean'"}], "mark": {"type": "rule", "color": "#707070", "strokeWidth": 1.5}, "encoding": {"y": {"field": "y", "type": "quantitative"}}},
       {"data": {"name": "lines"}, "transform": [{"filter": "datum.p === 'C2' && datum.k === 'loa'"}], "mark": {"type": "rule", "color": "#333333", "strokeDash": [8, 5], "strokeWidth": 1.5}, "encoding": {"y": {"field": "y", "type": "quantitative"}}},
       {"data": {"name": "pts"}, "transform": [{"filter": "datum.p === 'C2'"}, {"lookup": "p", "from": {"data": {"name": "bands"}, "key": "p", "fields": ["lo", "hi"]}}], "mark": {"type": "circle", "size": 28, "opacity": 1}, "encoding": {"x": {"field": "m", "type": "quantitative", "scale": {"domain": [60.2, 94.8], "nice": false, "zero": false}, "axis": {"values": [65, 70, 75, 80, 85, 90], "title": "Mean of DBP (24-hour ABPM and unattended OBP), mmHg"}}, "y": {"field": "d", "type": "quantitative"}, "color": {"condition": {"test": "datum.d > datum.hi || datum.d < datum.lo", "value": "#000000"}, "value": "#555555"}}},
       {"data": {"name": "notes"}, "transform": [{"filter": "datum.p === 'C2'"}], "mark": {"type": "text", "fontSize": 15, "color": "#111111", "baseline": "middle"}, "encoding": {"x": {"field": "m", "type": "quantitative"}, "y": {"field": "d", "type": "quantitative"}, "text": {"field": "t"}}}
      ]}
    ]
   }
  ]
 }
],
"spacing": 27
}
